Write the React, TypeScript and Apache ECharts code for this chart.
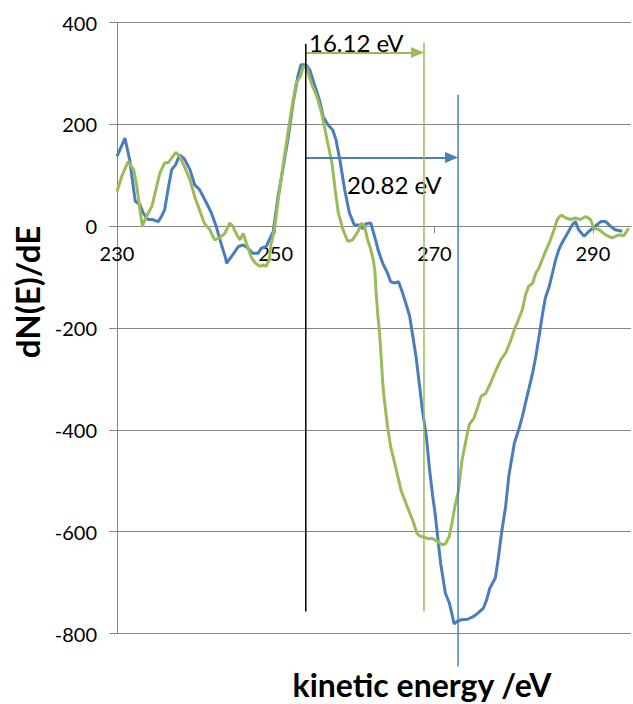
import React, { useEffect, useRef } from "react";
import * as echarts from "echarts";

// ---- data ----
const blueX = [230.0, 231.0, 231.6, 232.3, 232.9, 233.3, 233.9, 234.5, 235.2, 235.6, 236.0, 236.5, 236.9, 237.4, 237.9, 238.5, 239.2, 239.8, 240.4, 241.3, 241.9, 242.5, 243.1, 243.7, 243.8, 244.6, 245.3, 245.9, 246.5, 247.1, 247.8, 248.2, 248.8, 249.2, 249.7, 250.3, 250.9, 251.6, 252.2, 252.8, 253.2, 253.8, 254.3, 254.9, 255.5, 256.0, 256.6, 257.2, 257.6, 258.1, 258.7, 259.3, 259.9, 260.6, 261.0, 261.4, 262.0, 262.7, 262.9, 263.5, 264.1, 264.5, 265.0, 265.5, 266.0, 266.4, 266.9, 267.3, 267.7, 268.1, 268.5, 269.0, 269.4, 269.8, 270.1, 270.8, 271.4, 271.9, 272.3, 272.5, 272.9, 273.4, 274.2, 274.9, 275.5, 276.2, 276.6, 277.0, 277.7, 278.1, 278.5, 279.0, 279.4, 280.1, 280.7, 281.1, 281.5, 281.9, 282.4, 282.8, 283.2, 283.6, 284.0, 284.5, 284.9, 285.3, 285.7, 286.1, 286.8, 287.4, 287.8, 288.2, 288.9, 289.5, 290.3, 291.0, 291.6, 292.2, 292.8, 293.7];
const blueY = [137, 173, 130, 49, 42, 26, 13, 13, 9, 19, 32, 78, 111, 121, 140, 132, 111, 81, 72, 45, 26, 0, -33, -63, -73, -56, -40, -37, -43, -53, -53, -43, -40, -27, -10, 58, 111, 176, 242, 294, 317, 317, 307, 278, 249, 215, 199, 189, 170, 130, 72, 26, 3, 2, -5, 5, 6, -33, -46, -73, -92, -109, -112, -109, -131, -151, -177, -217, -256, -308, -361, -413, -478, -530, -564, -662, -721, -740, -767, -781, -776, -773, -772, -767, -760, -750, -734, -711, -691, -649, -600, -550, -490, -426, -397, -374, -347, -321, -288, -256, -217, -177, -141, -118, -92, -66, -46, -33, -14, 3, 9, -7, -20, -10, 0, 9, 9, 0, -7, -10];

const greenX = [230.0, 230.6, 231.4, 232.1, 232.5, 232.9, 233.2, 233.7, 234.4, 234.8, 235.4, 236.0, 236.5, 236.9, 237.4, 237.9, 238.5, 239.2, 239.8, 240.4, 241.0, 241.7, 242.3, 242.9, 243.6, 244.2, 244.6, 245.0, 245.5, 245.9, 246.3, 246.9, 247.4, 248.0, 248.4, 248.8, 249.2, 249.4, 249.7, 249.9, 250.5, 251.1, 251.6, 252.2, 252.6, 253.1, 253.5, 253.9, 254.5, 255.2, 255.8, 256.4, 257.1, 257.5, 257.9, 258.5, 259.1, 259.7, 260.4, 260.8, 261.2, 261.6, 262.0, 262.3, 262.5, 262.7, 262.9, 263.1, 263.3, 263.5, 263.7, 264.1, 264.5, 265.0, 265.4, 265.8, 266.1, 266.5, 266.9, 267.4, 267.8, 268.2, 268.6, 269.3, 269.7, 270.4, 271.0, 271.4, 271.9, 272.3, 272.6, 273.0, 273.2, 273.5, 274.0, 274.4, 275.0, 275.5, 275.9, 276.5, 277.1, 277.8, 278.4, 279.0, 279.6, 280.1, 280.7, 281.1, 281.5, 281.9, 282.4, 282.8, 283.2, 283.6, 284.0, 284.5, 285.1, 285.5, 286.0, 286.6, 287.2, 287.8, 288.4, 289.1, 289.7, 290.1, 290.8, 291.6, 292.4, 293.3, 293.9, 294.5];
const greenY = [68, 98, 127, 111, 78, 32, 0, 19, 39, 65, 104, 124, 125, 134, 145, 137, 117, 91, 58, 32, 6, -7, -27, -23, -14, 6, 0, -14, -27, -14, -33, -60, -72, -79, -76, -79, -66, -37, -17, 0, 72, 137, 189, 248, 281, 294, 314, 311, 281, 255, 222, 176, 124, 72, 26, -7, -30, -27, -10, 6, 0, -27, -46, -66, -86, -138, -177, -210, -256, -308, -341, -393, -433, -465, -492, -518, -531, -547, -563, -583, -603, -609, -610, -614, -613, -619, -626, -624, -609, -577, -550, -524, -498, -459, -420, -390, -377, -354, -334, -328, -308, -282, -262, -249, -226, -203, -180, -164, -135, -118, -112, -92, -82, -66, -50, -33, -7, 13, 22, 16, 13, 16, 13, 19, 13, -4, -7, -17, -23, -17, -19, -4];

const xTickLabels = [230, 250, 270, 290];
const yMin = -800;
const yMax = 400;
const yStep = 200;
const xMin = 230;
const xMax = 294.8;

// reference markers (x positions in eV, vertical extents in dN/dE units)
const blackLineX = 253.8;
const greenLineX = 268.7;
const blueLineX = 273.0;
const blackLineSpan = [358, -757];
const greenLineSpan = [360, -757];
const blueLineSpan = [258, -865];
const greenArrowY = 341;
const blueArrowY = 135;
const greenLabel = "16.12 eV";
const blueLabel = "20.82 eV";
const xTitle = "kinetic energy /eV";
const yTitle = "dN(E)/dE";

const BLUE = "#4a7ebb";
const GREEN = "#9bbb59";
const GRID = "#868686";
const FONT = "Lato";

export default function App() {
  const ref = useRef<HTMLDivElement>(null);
  useEffect(() => {
    if (!ref.current) return;
    const chart = echarts.init(ref.current, null, { renderer: "svg" });
    const W = 633;
    const H = 704;
    const gridLeft = 117;
    const gridRight = 2;
    const gridTop = 22.5;
    const gridBottom = 70.5;
    const pxPerUnit = (W - gridLeft - gridRight) / (xMax - xMin);
    const plotH = H - gridTop - gridBottom;
    // x axis crosses the value axis at 0: shift it up from the bottom edge
    const zeroFromBottom = (plotH * (0 - yMin)) / (yMax - yMin);
    const headHalf = 6.5 / pxPerUnit;

    const vline = (x: number, span: number[], color: string, extra?: any) => ({
      type: "line",
      data: [
        [x, span[0]],
        [x, span[1]],
      ],
      showSymbol: false,
      symbol: "none",
      clip: false,
      silent: true,
      z: 5,
      lineStyle: { color, width: 1.5 },
      ...(extra || {}),
    });

    const arrow = (x1: number, x2: number, y: number, color: string) => ({
      markLine: {
        silent: true,
        symbol: ["none", "triangle"],
        symbolSize: [11, 13],
        label: { show: false },
        lineStyle: { color, width: 2, type: "solid" },
        emphasis: { disabled: true },
        data: [[{ coord: [x1, y] }, { coord: [x2 - headHalf, y] }]],
      },
    });

    chart.setOption({
      animation: false,
      grid: { left: gridLeft, right: gridRight, top: gridTop, bottom: gridBottom },
      xAxis: {
        type: "value",
        min: xMin,
        max: xMax,
        interval: 20,
        position: "bottom",
        offset: -zeroFromBottom,
        axisLine: { onZero: false, lineStyle: { color: GRID, width: 1 } },
        axisTick: { show: true, length: 7, lineStyle: { color: GRID } },
        splitLine: { show: false },
        axisLabel: {
          fontFamily: FONT,
          fontSize: 20,
          color: "#000",
          margin: 17,
          showMaxLabel: false,
          formatter: (v: number) => (xTickLabels.includes(v) ? String(v) : ""),
        },
      },
      yAxis: {
        type: "value",
        min: yMin,
        max: yMax,
        interval: yStep,
        axisLine: { show: true, onZero: false, lineStyle: { color: GRID, width: 1 } },
        axisTick: { show: true, length: 8, lineStyle: { color: GRID } },
        splitLine: { show: true, lineStyle: { color: GRID, width: 1 } },
        axisLabel: { fontFamily: FONT, fontSize: 20, color: "#000", margin: 20 },
      },
      series: [
        {
          type: "line",
          data: blueX.map((x, i) => [x, blueY[i]]),
          showSymbol: false,
          symbol: "none",
          lineStyle: { color: BLUE, width: 3 },
          z: 3,
        },
        {
          type: "line",
          data: greenX.map((x, i) => [x, greenY[i]]),
          showSymbol: false,
          symbol: "none",
          lineStyle: { color: GREEN, width: 3 },
          z: 4,
        },
        vline(blackLineX, blackLineSpan, "#000"),
        vline(greenLineX, greenLineSpan, GREEN, arrow(blackLineX, greenLineX, greenArrowY, GREEN)),
        vline(blueLineX, blueLineSpan, BLUE, arrow(blackLineX, blueLineX, blueArrowY, BLUE)),
      ],
      graphic: [
        {
          type: "text",
          x: 309,
          y: 42,
          style: { text: greenLabel, fontFamily: FONT, fontSize: 24, fill: "#000", textVerticalAlign: "middle" },
        },
        {
          type: "text",
          x: 347,
          y: 184,
          style: { text: blueLabel, fontFamily: FONT, fontSize: 24, fill: "#000", textVerticalAlign: "middle" },
        },
        {
          type: "text",
          x: 422,
          y: 684,
          style: {
            text: xTitle,
            fontFamily: FONT,
            fontSize: 32,
            fontWeight: "bold",
            fill: "#000",
            textAlign: "center",
            textVerticalAlign: "middle",
          },
        },
        {
          type: "text",
          x: 27,
          y: 292,
          rotation: Math.PI / 2,
          style: {
            text: yTitle,
            fontFamily: FONT,
            fontSize: 33,
            fontWeight: "bold",
            fill: "#000",
            textAlign: "center",
            textVerticalAlign: "middle",
          },
        },
      ],
    });
    return () => chart.dispose();
  }, []);
  return (
    <div
      ref={ref}
      style={{ position: "fixed", left: 0, top: 0, width: 633, height: 704, background: "#fff" }}
    />
  );
}
